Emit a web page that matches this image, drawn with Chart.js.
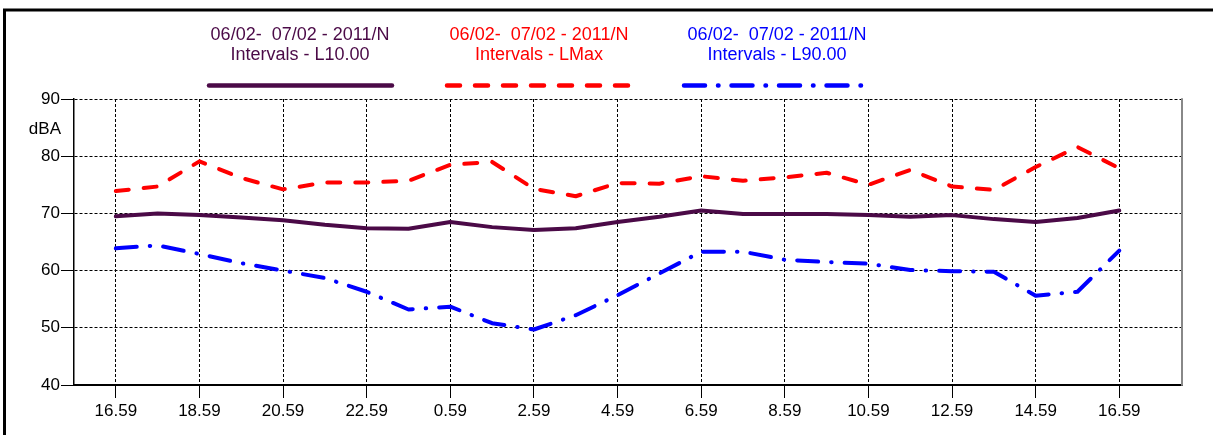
<!DOCTYPE html>
<html>
<head>
<meta charset="utf-8">
<script src="https://cdn.jsdelivr.net/npm/chart.js@4.4.1/dist/chart.umd.min.js"></script>
<style>
  html, body { margin: 0; padding: 0; background: #fff; }
  #wrap { position: relative; width: 1213px; height: 435px; }
</style>
</head>
<body>
<div id="wrap"><canvas id="chart"></canvas></div>
<script>
// hourly intervals, 06/02 16.59 -> 07/02 16.59
const hours = ['16.59', '17.59', '18.59', '19.59', '20.59', '21.59', '22.59', '23.59', '0.59', '1.59',
    '2.59', '3.59', '4.59', '5.59', '6.59', '7.59', '8.59', '9.59', '10.59', '11.59',
    '12.59', '13.59', '14.59', '15.59', '16.59'];

const l10 = [69.5, 70.0, 69.7, 69.3, 68.8, 68.0, 67.4, 67.3, 68.5, 67.6, 67.1, 67.4, 68.5,
    69.4, 70.5, 69.9, 69.9, 69.9, 69.7, 69.4, 69.7, 69.0, 68.5, 69.2, 70.5];
const lmax = [73.9, 74.7, 79.1, 76.2, 74.2, 75.4, 75.4, 75.7, 78.5, 79.0, 74.3, 73.0, 75.3,
    75.2, 76.5, 75.7, 76.3, 77.1, 75.0, 77.6, 74.7, 74.1, 78.1, 81.6, 77.9];
const l90 = [63.9, 64.4, 62.9, 61.3, 60.0, 58.7, 56.3, 53.2, 53.7, 50.8, 49.7, 52.2, 55.7,
    59.5, 63.3, 63.3, 61.9, 61.5, 61.2, 60.1, 59.9, 59.8, 55.6, 56.3, 63.5];

const period = '06/02-  07/02 - 2011/N';
const seriesNames = ['Intervals - L10.00', 'Intervals - LMax', 'Intervals - L90.00'];
const yTicks = [40, 50, 60, 70, 80, 90];
const yUnit = 'dBA';

const FONT = "'Liberation Sans', Arial, sans-serif";

const toPoints = arr => arr.map((v, i) => ({ x: i, y: v }));

// legend drawn above the plot: two text lines and a line sample per series
const headerLegend = {
    id: 'headerLegend',
    afterDraw(chart) {
        const ctx = chart.ctx;
        const centers = [300, 539, 777];
        const lineStart = [209, 447, 684];
        ctx.save();
        ctx.font = '18px ' + FONT;
        ctx.textAlign = 'center';
        ctx.textBaseline = 'middle';
        chart.data.datasets.forEach((ds, i) => {
            ctx.fillStyle = ds.borderColor;
            ctx.fillText(ds.label[0], centers[i], 35);
            ctx.fillText(ds.label[1], centers[i], 55);
            ctx.strokeStyle = ds.borderColor;
            ctx.lineWidth = 4.5;
            ctx.lineCap = 'round';
            ctx.setLineDash(ds.borderDash || []);
            ctx.beginPath();
            ctx.moveTo(lineStart[i], 85.5);
            ctx.lineTo(lineStart[i] + 183, 85.5);
            ctx.stroke();
        });
        ctx.setLineDash([]);

        // unit label under the top tick
        ctx.font = '17px ' + FONT;
        ctx.fillStyle = '#000';
        ctx.textAlign = 'right';
        ctx.fillText(yUnit, 61, 129);

        // right edge of the plot
        const a = chart.chartArea;
        ctx.strokeStyle = '#888';
        ctx.lineWidth = 2;
        ctx.beginPath();
        ctx.moveTo(a.right, a.top);
        ctx.lineTo(a.right, a.bottom);
        ctx.stroke();

        // outer frame (left and top)
        ctx.strokeStyle = '#000';
        ctx.lineWidth = 3;
        ctx.lineCap = 'butt';
        ctx.beginPath();
        ctx.moveTo(4.5, 440);
        ctx.lineTo(4.5, 10);
        ctx.lineTo(1220, 10);
        ctx.stroke();
        ctx.restore();
    }
};

new Chart(document.getElementById('chart'), {
    type: 'line',
    data: {
        datasets: [
            {
                label: [period, seriesNames[0]],
                data: toPoints(l10),
                borderColor: '#4b0a47',
                borderWidth: 4,
                borderCapStyle: 'round',
                borderJoinStyle: 'round'
            },
            {
                label: [period, seriesNames[1]],
                data: toPoints(lmax),
                borderColor: '#ff0000',
                borderWidth: 4,
                borderDash: [13, 15],
                borderCapStyle: 'round',
                borderJoinStyle: 'round'
            },
            {
                label: [period, seriesNames[2]],
                data: toPoints(l90),
                borderColor: '#0000ff',
                borderWidth: 4,
                borderDash: [21, 13, 0.5, 13],
                borderCapStyle: 'round',
                borderJoinStyle: 'round'
            }
        ]
    },
    options: {
        responsive: true,
        maintainAspectRatio: false,
        animation: false,
        layout: { padding: { left: 0, right: 31, top: 99, bottom: 0 } },
        elements: { point: { radius: 0 }, line: { tension: 0 } },
        plugins: { legend: { display: false }, tooltip: { enabled: false } },
        scales: {
            x: {
                type: 'linear',
                min: -1,
                max: 25.5,
                afterBuildTicks: s => { s.ticks = hours.map((h, i) => ({ value: i })).filter(t => t.value % 2 === 0); },
                afterFit: s => { s.height = 50; },
                ticks: {
                    callback: v => hours[v],
                    autoSkip: false,
                    maxRotation: 0,
                    color: '#000',
                    padding: 3,
                    font: { family: FONT, size: 17 }
                },
                grid: { color: '#000', lineWidth: 1, tickLength: 13, tickColor: '#000', tickWidth: 1 },
                border: { display: true, color: '#000', width: 2, dash: [3, 2] }
            },
            y: {
                min: 40,
                max: 90,
                afterBuildTicks: s => { s.ticks = yTicks.map(v => ({ value: v })); },
                afterFit: s => { s.width = 74; },
                ticks: {
                    color: '#000',
                    padding: 1,
                    font: { family: FONT, size: 17 }
                },
                grid: { color: '#000', lineWidth: 1, tickLength: 13, tickColor: '#000', tickWidth: 1 },
                border: { display: true, color: '#000', width: 1.5, dash: [3, 2] }
            }
        }
    },
    plugins: [headerLegend]
});
</script>
</body>
</html>
